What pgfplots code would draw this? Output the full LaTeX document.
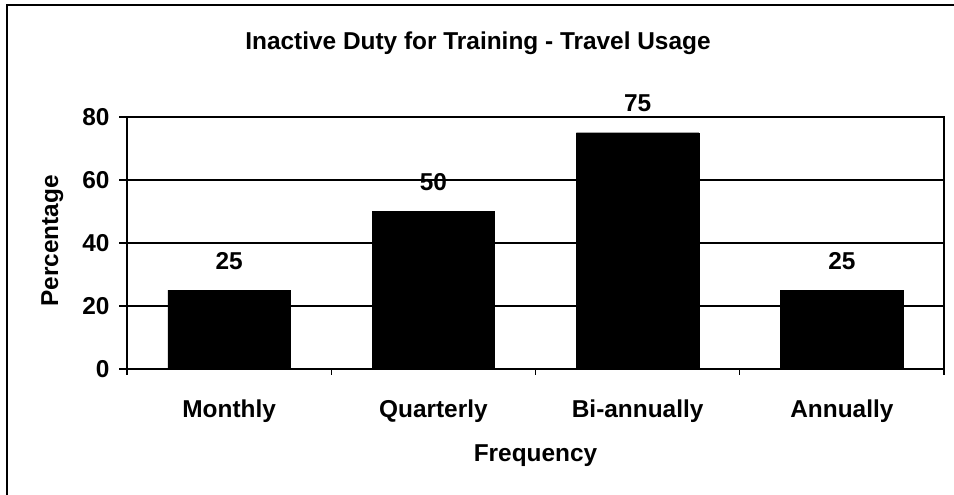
\documentclass[border=0pt]{standalone}
\usepackage{pgfplots}
\pgfplotsset{compat=1.18}
\usepackage{fontspec}
\setmainfont{Liberation Sans}
\newcommand{\lf}{\fontsize{24.5}{29}\selectfont\bfseries}
\begin{document}
\begin{tikzpicture}[x=1bp,y=1bp]
\path[use as bounding box] (0,0) rectangle (954,495);
\draw[line width=1.2bp] (7,0) -- (7,490) -- (954,490);
\node[anchor=base,font=\lf] at (478,445) {Inactive Duty for Training - Travel Usage};
\node[anchor=base,rotate=90,font=\lf] at (58,254) {Percentage};
\node[anchor=base,font=\lf] at (535.5,33) {Frequency};
\begin{axis}[
  at={(127bp,126bp)}, anchor=south west,
  scale only axis, width=817bp, height=252bp,
  xmin=-0.5, xmax=3.5, ymin=0, ymax=80,
  ybar, bar width=0.6,
  xtick={0,1,2,3},
  xticklabels={Monthly,Quarterly,Bi-annually,Annually},
  major x tick style={draw=none},
  minor xtick={-0.5,0.5,1.5,2.5,3.5},
  ytick={0,20,40,60,80},
  tick align=outside,
  xtick pos=bottom, ytick pos=left,
  major tick length=8bp, minor tick length=6bp,
  ymajorgrids,
  grid style={black, line width=1.2bp},
  axis line style={line width=1.6bp},
  tick style={black, line width=1.2bp},
  ticklabel style={font=\lf},
  /pgf/number format/assume math mode=true,
  xticklabel style={anchor=base, yshift=-41bp},
  yticklabel style={anchor=east, xshift=-6bp},
  nodes near coords,
  every node near coord/.append style={font=\lf, anchor=base, yshift=21bp},
  point meta=explicit symbolic,
]
\addplot[fill=black, draw=black] coordinates {(0,25) [25] (1,50) [50] (2,75) [75] (3,25) [25]};
\end{axis}
\end{tikzpicture}
\end{document}
